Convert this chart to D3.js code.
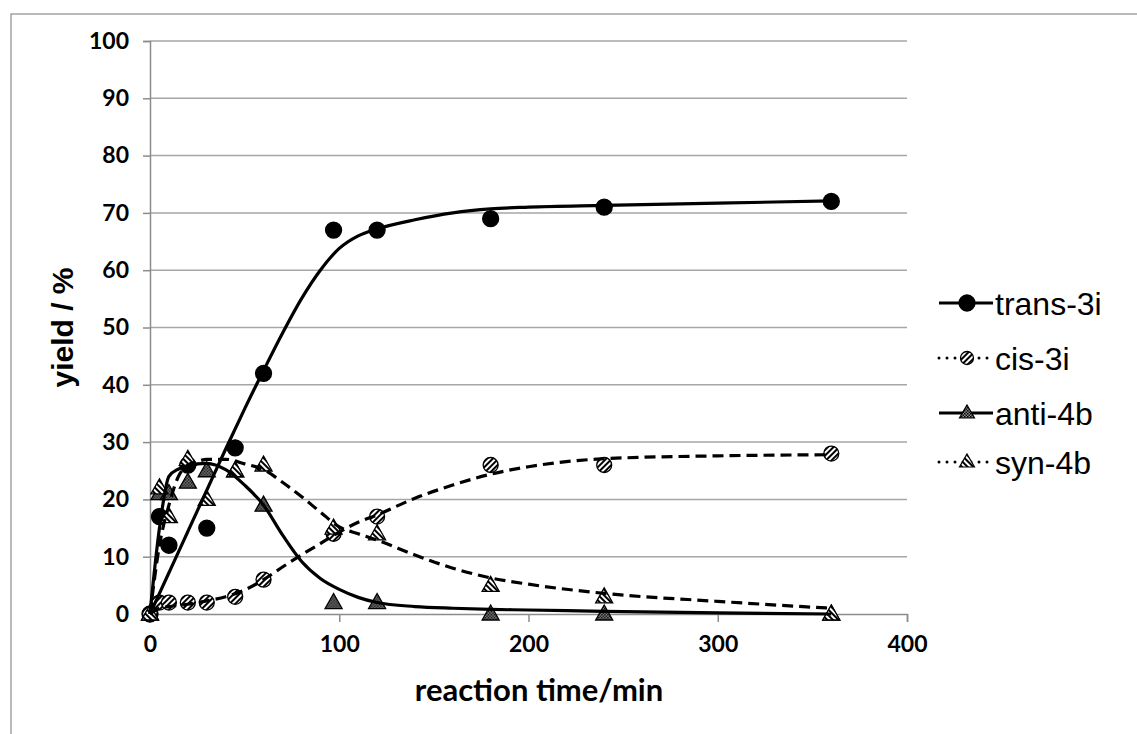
<!DOCTYPE html>
<html>
<head>
<meta charset="utf-8">
<script src="https://cdn.jsdelivr.net/npm/d3@7"></script>
<style>
  body { margin: 0; background: #fff; }
  svg { display: block; }
</style>
</head>
<body>
<svg id="chart" width="1137" height="734"></svg>
<script>
// measured points
const times = [0, 5, 10, 20, 30, 45, 60, 97, 120, 180, 240, 360];
const trans3i = [0, 17, 12, 26, 15, 29, 42, 67, 67, 69, 71, 72];
const cis3i = [0, 2, 2, 2, 2, 3, 6, 14, 17, 26, 26, 28];
const anti4b = [0, 21, 21, 23, 25, 25, 19, 2, 2, 0, 0, 0];
const syn4b = [0, 22, 17, 27, 20, 25, 26, 15, 14, 5, 3, 0];

// fitted curves
const fitTimes = [0, 5, 10, 15, 20, 25, 30, 40, 50, 60, 70, 80, 90, 100, 110, 120, 140, 160, 180, 200, 240, 300, 360];
const transFit = [0, 3.6, 7.2, 10.8, 14.4, 18, 21.6, 28.8, 35.8, 42.5, 49, 55, 60, 63.8, 66, 67.2, 68.8, 70, 70.7, 71, 71.3, 71.7, 72.1];
const cisFit = [0, 1.0, 1.3, 1.5, 1.7, 2.0, 2.3, 3.0, 4.2, 6, 8.2, 10.3, 12.3, 14.3, 16, 17.3, 20.2, 22.5, 24.4, 25.7, 27.1, 27.6, 27.8];
const antiFit = [0, 15, 24, 25.3, 25.8, 26.2, 26.3, 25.2, 22.5, 19, 13.8, 9.2, 6.2, 4.3, 2.9, 2.0, 1.3, 1.0, 0.8, 0.7, 0.45, 0.2, 0];
const synFit = [0, 12, 19, 24, 26, 26.6, 27, 27, 26.2, 25.2, 23, 20.5, 17.8, 15.2, 14, 12.9, 10.3, 8, 6.3, 5.2, 3.6, 2.2, 1];

const xTicks = [0, 100, 200, 300, 400];
const yTicks = [0, 10, 20, 30, 40, 50, 60, 70, 80, 90, 100];
const legendNames = ['trans-3i', 'cis-3i', 'anti-4b', 'syn-4b'];

const svg = d3.select('#chart');
const margin = { left: 150, top: 41, right: 230, bottom: 120 };
const width = 1137 - margin.left - margin.right;
const height = 734 - margin.top - margin.bottom;

const x = d3.scaleLinear().domain([0, 400]).range([0, width]);
const y = d3.scaleLinear().domain([0, 100]).range([height, 0]);

// patterns
const defs = svg.append('defs');
const hatch = (id, angle) => {
  const p = defs.append('pattern').attr('id', id)
    .attr('patternUnits', 'userSpaceOnUse').attr('width', 4).attr('height', 4)
    .attr('patternTransform', `rotate(${angle})`);
  p.append('rect').attr('width', 4).attr('height', 4).attr('fill', '#fff');
  p.append('line').attr('x1', 1).attr('y1', 0).attr('x2', 1).attr('y2', 4)
    .attr('stroke', '#000').attr('stroke-width', 2);
};
hatch('hatchCis', 45);
hatch('hatchSyn', -45);
const dots = defs.append('pattern').attr('id', 'dotsAnti')
  .attr('patternUnits', 'userSpaceOnUse').attr('width', 3).attr('height', 3);
dots.append('rect').attr('width', 3).attr('height', 3).attr('fill', '#8a8a8a');
dots.append('rect').attr('width', 1.5).attr('height', 1.5).attr('fill', '#000');
dots.append('rect').attr('x', 1.5).attr('y', 1.5).attr('width', 1.5).attr('height', 1.5).attr('fill', '#111');

// outer frame
svg.append('rect').attr('x', 11).attr('y', 14).attr('width', 1200).attr('height', 800)
  .attr('fill', 'none').attr('stroke', '#8c8c8c').attr('stroke-width', 1.2);

const g = svg.append('g').attr('transform', `translate(${margin.left},${margin.top})`);

// grid
g.append('g').selectAll('line').data(yTicks.filter(d => d > 0)).join('line')
  .attr('x1', 0).attr('x2', width).attr('y1', d => y(d)).attr('y2', d => y(d))
  .attr('stroke', '#a6a6a6').attr('stroke-width', 1.5);

// axes
const xAxis = g.append('g').attr('transform', `translate(0,${height})`)
  .call(d3.axisBottom(x).tickValues(xTicks).tickSize(8).tickPadding(14));
const yAxis = g.append('g')
  .call(d3.axisLeft(y).tickValues(yTicks).tickSize(7).tickPadding(14));
[xAxis, yAxis].forEach(a => {
  a.selectAll('path, line').attr('stroke', '#8c8c8c').attr('stroke-width', 1.5);
  a.selectAll('text').attr('font-family', 'Lato, sans-serif').attr('font-weight', 'bold')
    .attr('font-size', 23).attr('fill', '#000');
});

svg.append('text').attr('x', 539).attr('y', 701)
  .attr('text-anchor', 'middle').attr('font-family', 'Lato, sans-serif')
  .attr('font-weight', 'bold').attr('font-size', 31).text('reaction time/min');
svg.append('text').attr('transform', `translate(73,${margin.top + height / 2}) rotate(-90)`)
  .attr('text-anchor', 'middle').attr('font-family', 'Liberation Sans, Arial, sans-serif')
  .attr('font-weight', 'bold').attr('font-size', 30).text('yield / %');

// markers
const triPath = 'M0,-9L8.5,6L-8.5,6Z';
const series = [
  { vals: trans3i, shape: 'circle', fill: '#000', r: 8 },
  { vals: cis3i, shape: 'circle', fill: 'url(#hatchCis)', r: 7.5 },
  { vals: anti4b, shape: 'tri', fill: 'url(#dotsAnti)' },
  { vals: syn4b, shape: 'tri', fill: 'url(#hatchSyn)' }
];
series.forEach(s => {
  const pts = g.append('g').selectAll('g').data(times.map((t, i) => [t, s.vals[i]])).join('g')
    .attr('transform', d => `translate(${x(d[0])},${y(d[1])})`);
  if (s.shape === 'circle') {
    pts.append('circle').attr('r', s.r).attr('fill', s.fill).attr('stroke', '#000').attr('stroke-width', 1.3);
  } else {
    pts.append('path').attr('d', triPath).attr('fill', s.fill).attr('stroke', '#000').attr('stroke-width', 1.3);
  }
});

// fitted lines
const line = d3.line().x(d => x(d[0])).y(d => y(d[1])).curve(d3.curveMonotoneX);
const fits = [
  { vals: transFit, dash: null },
  { vals: cisFit, dash: '11,6' },
  { vals: antiFit, dash: null },
  { vals: synFit, dash: '11,6' }
];
fits.forEach(f => {
  g.append('path').datum(fitTimes.map((t, i) => [t, f.vals[i]]))
    .attr('fill', 'none').attr('stroke', '#000').attr('stroke-width', 3.2)
    .attr('stroke-dasharray', f.dash).attr('d', line);
});

// legend
const legendY = [303, 358, 413, 462];
const lg = svg.append('g');
legendNames.forEach((name, i) => {
  const row = lg.append('g').attr('transform', `translate(938,${legendY[i]})`);
  const dotted = i % 2 === 1;
  row.append('line').attr('x1', 1).attr('x2', 55).attr('y1', 0).attr('y2', 0)
    .attr('stroke', '#000').attr('stroke-width', 3)
    .attr('stroke-dasharray', dotted ? '0,8' : null).attr('stroke-linecap', dotted ? 'round' : 'butt');
  const m = row.append('g').attr('transform', 'translate(29,0)');
  const s = series[i];
  if (s.shape === 'circle') {
    m.append('circle').attr('r', i === 0 ? 8 : 6.5).attr('fill', s.fill).attr('stroke', '#000').attr('stroke-width', 1.3);
  } else {
    m.append('path').attr('d', 'M0,-8L7.5,5L-7.5,5Z').attr('fill', s.fill).attr('stroke', '#000').attr('stroke-width', 1.2);
  }
  row.append('text').attr('x', 57).attr('y', 0).attr('dy', '0.36em')
    .attr('font-family', 'Liberation Sans, Arial, sans-serif').attr('font-size', 32).text(name);
});
</script>
</body>
</html>
